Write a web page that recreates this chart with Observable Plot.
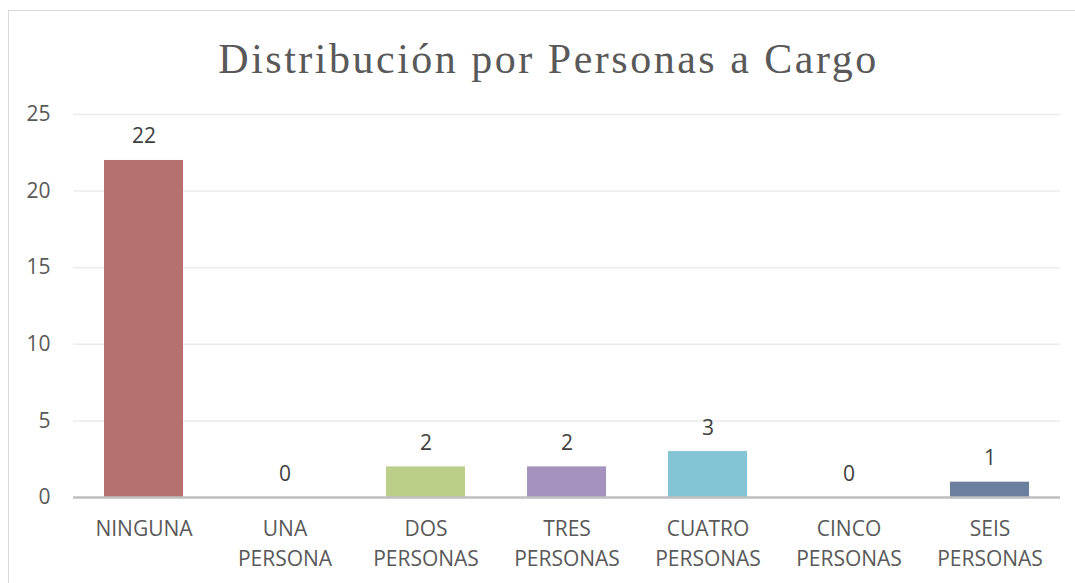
<!DOCTYPE html>
<html>
<head>
<meta charset="utf-8">
<script src="https://cdn.jsdelivr.net/npm/d3@7"></script>
<script src="https://cdn.jsdelivr.net/npm/@observablehq/plot@0.6"></script>
<style>
  html, body { margin: 0; padding: 0; width: 1075px; height: 583px; overflow: hidden; background: #fff; }
  #frame { position: absolute; left: 8px; top: 10px; width: 1100px; height: 600px; border: 1.5px solid #d9d9d9; box-sizing: border-box; pointer-events: none; }
  #wrap { position: absolute; left: 0; top: 0; width: 1075px; }
  #title { height: 90px; box-sizing: border-box; padding-top: 38px; padding-left: 22px; text-align: center;
           font-family: "Liberation Serif", serif; font-size: 42px; line-height: 1; letter-spacing: 2.5px; color: #595959; white-space: nowrap; }
</style>
</head>
<body>
<div id="frame"></div>
<div id="wrap">
  <div id="title">Distribución por Personas a Cargo</div>
  <div id="chart"></div>
</div>
<script>
const categories = ["NINGUNA", "UNA PERSONA", "DOS PERSONAS", "TRES PERSONAS", "CUATRO PERSONAS", "CINCO PERSONAS", "SEIS PERSONAS"];
const values = [22, 0, 2, 2, 3, 0, 1];
const colors = ["#b4716f", "#999999", "#bbcf8b", "#a592be", "#83c5d5", "#999999", "#6a809e"];
const yTicks = [0, 5, 10, 15, 20, 25];

const data = categories.map((c, i) => ({cat: c, value: values[i], color: colors[i]}));

const chart = Plot.plot({
  width: 1075,
  height: 493,
  marginTop: 24,
  marginBottom: 86,
  marginLeft: 73,
  marginRight: 15,
  style: {fontFamily: "'Open Sans', sans-serif", fontSize: "21px", color: "#595959", background: "transparent", overflow: "visible"},
  x: {domain: categories, paddingInner: 0.44, paddingOuter: 0.22, label: null},
  y: {domain: [0, 25], label: null},
  color: {type: "identity"},
  marks: [
    Plot.gridY(yTicks, {stroke: "#ebebeb", strokeOpacity: 1, strokeWidth: 1.5}),
    Plot.axisY(yTicks, {tickSize: 0, tickPadding: 23, fontSize: 21, label: null, fill: "#595959"}),
    Plot.axisX({tickSize: 0, tickPadding: 18, fontSize: 21, lineHeight: 1.4, label: null, fill: "#595959",
                tickFormat: d => d.replace(" ", "\n")}),
    Plot.barY(data, {x: "cat", y: "value", fill: "color"}),
    Plot.ruleY([0], {stroke: "#bfbfbf", strokeWidth: 2.5}),
    Plot.text(data, {x: "cat", y: "value", text: d => String(d.value), lineAnchor: "bottom", dy: -17, fill: "#404040", fontSize: 21})
  ]
});
document.getElementById("chart").appendChild(chart);
</script>
</body>
</html>
